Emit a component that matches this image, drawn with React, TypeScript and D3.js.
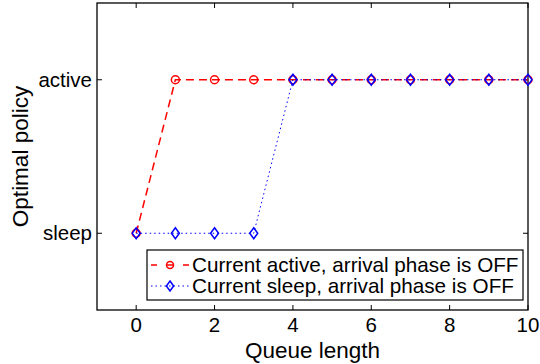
import React, { useEffect, useRef } from "react";
import * as d3 from "d3";

const queueLength = [0, 1, 2, 3, 4, 5, 6, 7, 8, 9, 10];
const activeSeries = [0, 1, 1, 1, 1, 1, 1, 1, 1, 1, 1];
const sleepSeries = [0, 0, 0, 0, 1, 1, 1, 1, 1, 1, 1];
const xTicks = [0, 2, 4, 6, 8, 10];
const yTickLabels = ["sleep", "active"];
const legendLabels = [
  "Current active, arrival phase is OFF",
  "Current sleep, arrival phase is OFF",
];

const App = () => {
  const chartRef = useRef<SVGSVGElement>(null);

  useEffect(() => {
    const width = 540;
    const height = 364;
    const margin = { top: 3, right: 12, bottom: 54, left: 97 };
    const font = "Liberation Sans, Arial, Helvetica, sans-serif";

    const svg = d3.select(chartRef.current);
    svg.selectAll("*").remove();

    const x = d3
      .scaleLinear()
      .domain([-1, 10])
      .range([margin.left, width - margin.right]);
    const y = d3
      .scaleLinear()
      .domain([-0.5, 1.5])
      .range([height - margin.bottom, margin.top]);

    const x0 = margin.left;
    const x1 = width - margin.right;
    const y0 = height - margin.bottom;
    const y1 = margin.top;

    // axes box
    svg
      .append("rect")
      .attr("x", x0)
      .attr("y", y1)
      .attr("width", x1 - x0)
      .attr("height", y0 - y1)
      .attr("fill", "white")
      .attr("stroke", "black")
      .attr("stroke-width", 1.3);

    // x ticks (inside, top and bottom)
    const xt = svg.append("g");
    xTicks.forEach((t) => {
      xt.append("line")
        .attr("x1", x(t)).attr("x2", x(t))
        .attr("y1", y0).attr("y2", y0 - 5)
        .attr("stroke", "black");
      xt.append("line")
        .attr("x1", x(t)).attr("x2", x(t))
        .attr("y1", y1).attr("y2", y1 + 5)
        .attr("stroke", "black");
      xt.append("text")
        .attr("x", x(t))
        .attr("y", y0 + 22)
        .attr("text-anchor", "middle")
        .attr("font-family", font)
        .attr("font-size", 20.5)
        .text(t);
    });

    // y ticks
    const yt = svg.append("g");
    yTickLabels.forEach((lab, i) => {
      yt.append("line")
        .attr("x1", x0).attr("x2", x0 + 5)
        .attr("y1", y(i)).attr("y2", y(i))
        .attr("stroke", "black");
      yt.append("line")
        .attr("x1", x1).attr("x2", x1 - 5)
        .attr("y1", y(i)).attr("y2", y(i))
        .attr("stroke", "black");
      yt.append("text")
        .attr("x", x0 - 5)
        .attr("y", y(i))
        .attr("dy", "0.35em")
        .attr("text-anchor", "end")
        .attr("font-family", font)
        .attr("font-size", 20.5)
        .text(lab);
    });

    // axis labels
    svg
      .append("text")
      .attr("x", (x0 + x1) / 2)
      .attr("y", height - 6)
      .attr("text-anchor", "middle")
      .attr("font-family", font)
      .attr("font-size", 22.5)
      .text("Queue length");
    svg
      .append("text")
      .attr("transform", `translate(28,${(y0 + y1) / 2}) rotate(-90)`)
      .attr("text-anchor", "middle")
      .attr("font-family", font)
      .attr("font-size", 22.5)
      .text("Optimal policy");

    const line = d3
      .line<number>()
      .x((d, i) => x(queueLength[i]))
      .y((d) => y(d));

    const drawCircle = (g, cx, cy, r = 4) =>
      g.append("circle")
        .attr("cx", cx).attr("cy", cy).attr("r", r)
        .attr("fill", "none").attr("stroke", "red").attr("stroke-width", 1.5);
    const drawDiamond = (g, cx, cy, s = 1) =>
      g.append("path")
        .attr("d", `M${cx},${cy - 5.5 * s}L${cx + 4 * s},${cy}L${cx},${cy + 5.5 * s}L${cx - 4 * s},${cy}Z`)
        .attr("fill", "none").attr("stroke", "blue").attr("stroke-width", 1.5);

    // active series
    svg
      .append("path")
      .datum(activeSeries)
      .attr("d", line)
      .attr("fill", "none")
      .attr("stroke", "red")
      .attr("stroke-width", 1.5)
      .attr("stroke-dasharray", "8,5");
    const ga = svg.append("g");
    activeSeries.forEach((v, i) => drawCircle(ga, x(queueLength[i]), y(v)));

    // sleep series
    svg
      .append("path")
      .datum(sleepSeries)
      .attr("d", line)
      .attr("fill", "none")
      .attr("stroke", "blue")
      .attr("stroke-width", 1)
      .attr("stroke-dasharray", "1.5,3");
    const gs = svg.append("g");
    sleepSeries.forEach((v, i) => drawDiamond(gs, x(queueLength[i]), y(v)));

    // legend
    const lx = 147;
    const ly = 250;
    const lw = 523 - lx;
    const lh = 50;
    const leg = svg.append("g");
    leg.append("rect")
      .attr("x", lx).attr("y", ly)
      .attr("width", lw).attr("height", lh)
      .attr("fill", "white").attr("stroke", "black").attr("stroke-width", 1.2);
    legendLabels.forEach((lab, i) => {
      const cy = ly + 15 + i * 21;
      leg.append("line")
        .attr("x1", lx + 4).attr("x2", lx + 42)
        .attr("y1", cy).attr("y2", cy)
        .attr("stroke", i === 0 ? "red" : "blue")
        .attr("stroke-width", i === 0 ? 1.5 : 1)
        .attr("stroke-dasharray", i === 0 ? "8,9" : "1.5,3")
        .attr("stroke-dashoffset", i === 0 ? 2 : 0);
      if (i === 0) drawCircle(leg, lx + 23, cy, 3.5);
      else drawDiamond(leg, lx + 23, cy, 0.9);
      leg.append("text")
        .attr("x", lx + 45)
        .attr("y", cy)
        .attr("dy", "0.35em")
        .attr("font-family", font)
        .attr("font-size", 20.7)
        .text(lab);
    });
  }, []);

  return (
    <svg
      ref={chartRef}
      width={540}
      height={364}
      style={{ position: "absolute", left: 0, top: 0 }}
    ></svg>
  );
};

export default App;
